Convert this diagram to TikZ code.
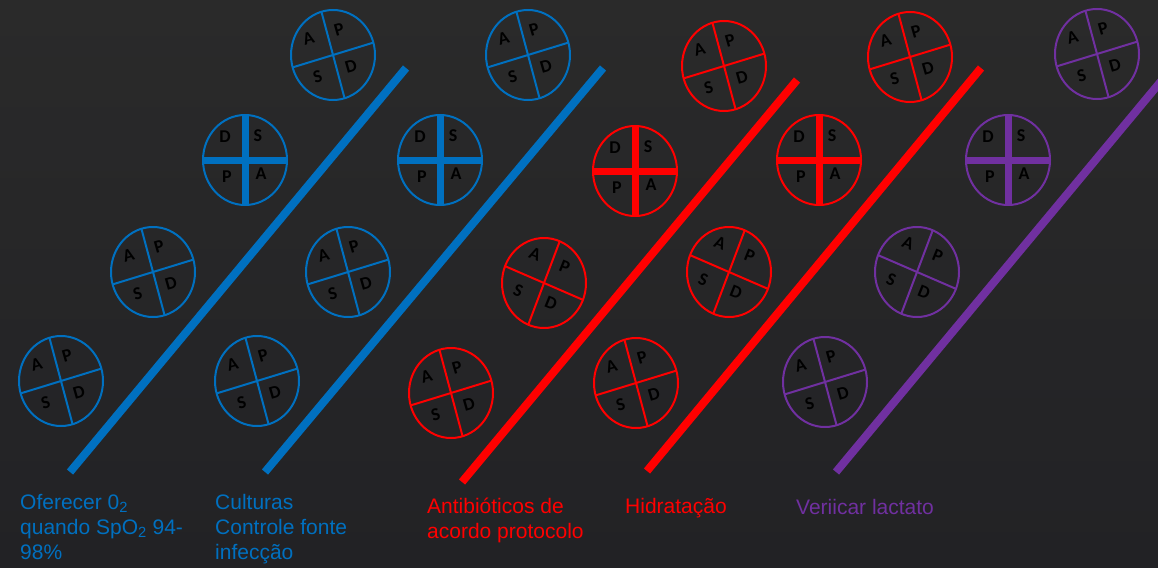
\documentclass[tikz,border=0pt]{standalone}
\usepackage{fontspec}
\setmainfont{Liberation Sans}
\newfontfamily\lettfont{Carlito}
\usetikzlibrary{shapes.geometric}
\definecolor{cblue}{HTML}{0070C0}
\definecolor{cred}{HTML}{FF0000}
\definecolor{cpurple}{HTML}{7030A0}
\definecolor{bgtop}{HTML}{2A2A2A}
\definecolor{bgbot}{HTML}{222225}
\tikzset{
  ring/.style={ellipse, minimum width=84, minimum height=90, inner sep=0, line width=2},
  divider/.style={line width=2},
  crossbar/.style={line width=7},
  letter/.style={font=\lettfont\bfseries\fontsize{18}{18}\selectfont, text=black, inner sep=0},
  slash/.style={line width=8},
  lab/.style={font=\fontsize{21}{25}\selectfont, align=left, inner sep=0, anchor=base west},
}
% name, x, y, angle, colour
\newcommand\apsdcircle[5]{%
  \begin{scope}[shift={(#2,-#3)}]
    \node[ring, draw=#5] (#1) at (0,0) {};
    \draw[divider, draw=#5] (#4+90:42 and 45) -- (#4+270:42 and 45);
    \draw[divider, draw=#5] (#4:42 and 45) -- (#4+180:42 and 45);
    \begin{scope}[rotate=#4]
      \node[letter, rotate=#4] at (-19,23) {A};
      \node[letter, rotate=#4] at (13,23) {P};
      \node[letter, rotate=#4] at (-21,-17) {S};
      \node[letter, rotate=#4] at (14,-16) {D};
    \end{scope}
  \end{scope}}
% name, x, y, colour
\newcommand\dspacircle[4]{%
  \begin{scope}[shift={(#2,-#3)}]
    \node[ring, draw=#4] (#1) at (0,0) {};
    \draw[crossbar, draw=#4] (#1.north) -- (#1.south);
    \draw[crossbar, draw=#4] (#1.west) -- (#1.east);
    \node[letter] at (-20,23) {D};
    \node[letter] at (13,24) {S};
    \node[letter] at (-18,-17) {P};
    \node[letter] at (16,-14) {A};
  \end{scope}}
\begin{document}
\begin{tikzpicture}[x=1pt, y=1pt]
  \useasboundingbox (0,0) rectangle (1158,-567);
  \clip (0,0) rectangle (1158,-567);
  \shade[top color=bgtop, bottom color=bgbot] (0,0) rectangle (1158,-567);

  % group 1 (blue)
  \apsdcircle{gAa}{61}{381}{16}{cblue}
  \apsdcircle{gAb}{153}{272}{16}{cblue}
  \dspacircle{gAc}{245}{160}{cblue}
  \apsdcircle{gAd}{333}{55}{16}{cblue}
  % group 2 (blue)
  \apsdcircle{gBa}{257}{381}{16}{cblue}
  \apsdcircle{gBb}{348}{272}{16}{cblue}
  \dspacircle{gBc}{440}{160}{cblue}
  \apsdcircle{gBd}{528}{55}{16}{cblue}
  % group 3 (red)
  \apsdcircle{gCa}{451}{393}{16}{cred}
  \apsdcircle{gCb}{544}{283}{-22}{cred}
  \dspacircle{gCc}{635}{171}{cred}
  \apsdcircle{gCd}{724}{66}{16}{cred}
  % group 4 (red)
  \apsdcircle{gDa}{636}{383}{16}{cred}
  \apsdcircle{gDb}{729}{272}{-22}{cred}
  \dspacircle{gDc}{819}{160}{cred}
  \apsdcircle{gDd}{910}{57}{16}{cred}
  % group 5 (purple)
  \apsdcircle{gEa}{825}{382}{16}{cpurple}
  \apsdcircle{gEb}{917}{272}{-22}{cpurple}
  \dspacircle{gEc}{1008}{160}{cpurple}
  \apsdcircle{gEd}{1097}{54}{16}{cpurple}

  % diagonal bars
  \coordinate (sAa) at (70,-472);  \coordinate (sAb) at (406,-68);
  \coordinate (sBa) at (265,-472); \coordinate (sBb) at (603,-68);
  \coordinate (sCa) at (462,-482); \coordinate (sCb) at (797,-80);
  \coordinate (sDa) at (647,-471); \coordinate (sDb) at (981,-68);
  \coordinate (sEa) at (836,-472); \coordinate (sEb) at (1172,-68);
  \draw[slash, cblue] (sAa) -- (sAb);
  \draw[slash, cblue] (sBa) -- (sBb);
  \draw[slash, cred] (sCa) -- (sCb);
  \draw[slash, cred] (sDa) -- (sDb);
  \draw[slash, cpurple] (sEa) -- (sEb);

  % labels (base anchor = baseline of last line)
  \node[lab, text=cblue] (tA) at (20,-559) {Oferecer 0\textsubscript{2}\\quando SpO\textsubscript{2} 94-\\98\%};
  \node[lab, text=cblue] (tB) at (215,-559) {Culturas\\Controle fonte\\infecção};
  \node[lab, text=cred] (tC) at (427,-538) {Antibióticos de\\acordo protocolo};
  \node[lab, text=cred] (tD) at (625,-513) {Hidratação};
  \node[lab, text=cpurple] (tE) at (796,-514) {Veriicar lactato};
\end{tikzpicture}
\end{document}
